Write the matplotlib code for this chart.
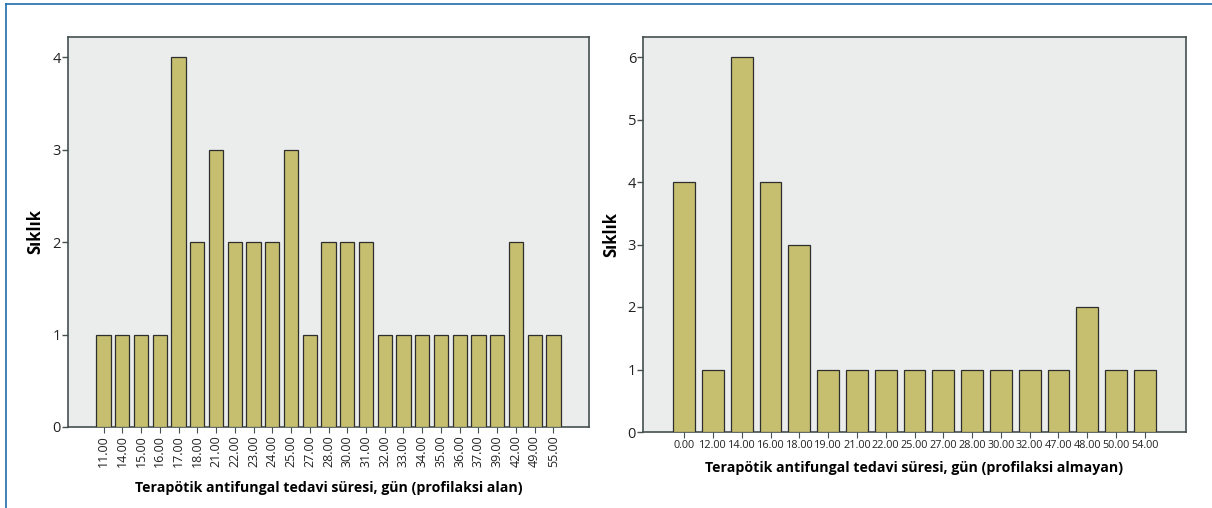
import matplotlib
matplotlib.use("Agg")
import matplotlib.pyplot as plt
from matplotlib.lines import Line2D

left_days = [11, 14, 15, 16, 17, 18, 21, 22, 23, 24, 25, 27, 28, 30, 31,
             32, 33, 34, 35, 36, 37, 39, 42, 49, 55]
left_counts = [1, 1, 1, 1, 4, 2, 3, 2, 2, 2, 3, 1, 2, 2, 2,
               1, 1, 1, 1, 1, 1, 1, 2, 1, 1]
right_days = [0, 12, 14, 16, 18, 19, 21, 22, 25, 27, 28, 30, 32, 47, 48, 50, 54]
right_counts = [4, 1, 6, 4, 3, 1, 1, 1, 1, 1, 1, 1, 1, 1, 2, 1, 1]

left_xlabel = "Terapötik antifungal tedavi süresi, gün (profilaksi alan)"
right_xlabel = "Terapötik antifungal tedavi süresi, gün (profilaksi almayan)"
ylabel = "Sıklık"

plt.rcParams['font.family'] = ['Open Sans', 'DejaVu Sans']

W, H = 1212, 508
fig = plt.figure(figsize=(W / 100, H / 100), dpi=100)

bar_color = "#C5BF6F"
edge_color = "#2E2E2E"
bg_color = "#EBECEC"
spine_color = "#465050"


def setup(ax, days, counts, ymax, yticks, rot, xfs, margin):
    n = len(days)
    x = list(range(n))
    ax.set_facecolor(bg_color)
    ax.bar(x, counts, width=0.76, color=bar_color, edgecolor=edge_color,
           linewidth=0.9, zorder=3)
    ax.set_xlim(-margin, n - 1 + margin)
    ax.set_ylim(0, ymax)
    ax.set_yticks(yticks)
    ax.set_yticklabels([str(t) for t in yticks], fontsize=10.5, color="#222222")
    ax.set_xticks(x)
    ax.set_xticklabels(["%.2f" % d for d in days], rotation=rot, fontsize=xfs,
                       color="#222222")
    for s in ax.spines.values():
        s.set_color(spine_color)
        s.set_linewidth(1.2)
    ax.tick_params(axis='y', length=4, width=1.0, color=spine_color, pad=1)
    ax.tick_params(axis='x', length=4, width=0.8, color=spine_color, pad=2)


ax1 = fig.add_axes([68 / W, (H - 427) / H, (589 - 68) / W, (427 - 37) / H])
setup(ax1, left_days, left_counts, 4.22, [0, 1, 2, 3, 4], 90, 9, 1.9)
ax1.set_ylabel(ylabel, fontsize=12, fontweight='bold', labelpad=6)
ax1.set_xlabel(left_xlabel, fontsize=10.2, fontweight='bold', labelpad=10)

ax2 = fig.add_axes([643 / W, (H - 432) / H, (1186 - 643) / W, (432 - 37) / H])
setup(ax2, right_days, right_counts, 6.32, [0, 1, 2, 3, 4, 5, 6], 0, 7.8, 1.43)
ax2.set_ylabel(ylabel, fontsize=12, fontweight='bold', labelpad=5)
ax2.set_xlabel(right_xlabel, fontsize=10.2, fontweight='bold', labelpad=7)

border = "#1F6DAE"
fig.add_artist(Line2D([6 / W, 1], [1 - 4 / H, 1 - 4 / H], color=border,
                      linewidth=1.2, transform=fig.transFigure))
fig.add_artist(Line2D([6 / W, 6 / W], [0, 1 - 4 / H], color=border,
                      linewidth=1.2, transform=fig.transFigure))

fig.savefig("out.png", dpi=100, facecolor="white")
